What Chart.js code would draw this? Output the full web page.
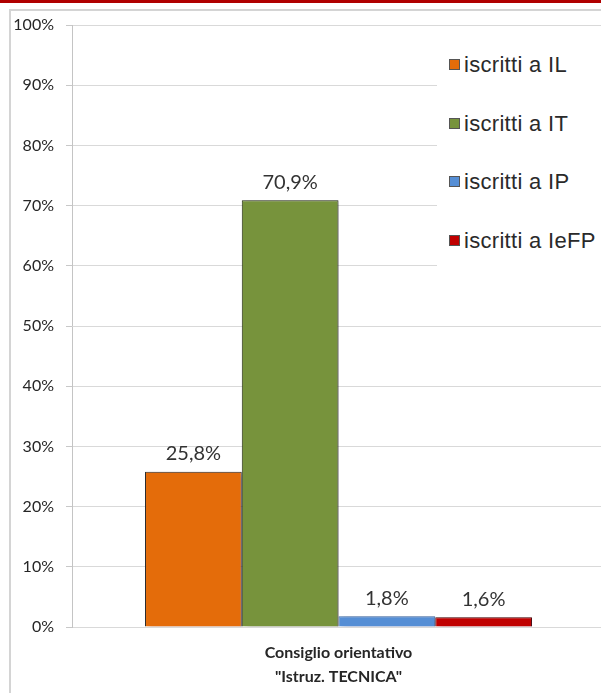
<!DOCTYPE html>
<html>
<head>
<meta charset="utf-8">
<script src="https://cdn.jsdelivr.net/npm/chart.js@4/dist/chart.umd.min.js"></script>
<style>
  html, body { margin:0; padding:0; width:601px; height:693px; overflow:hidden; background:#fff; }
  #band { position:absolute; left:0; top:0; width:601px; height:3px; background:#b00000; }
  #frame { position:absolute; left:9px; top:9px; width:700px; height:800px; border-left:2px solid #d4d4d4; border-top:2px solid #d4d4d4; }
  #wrap { position:absolute; left:0; top:0; width:620px; height:693px; }
  #legend { position:absolute; left:437px; top:32px; width:170px; height:240px; background:#fff; }
  .item { position:absolute; left:12px; font-family:"Liberation Sans", Arial, sans-serif; font-size:22px; letter-spacing:0.3px; color:#2a2a2a; white-space:nowrap; line-height:24px; }
  .sw { display:inline-block; width:9px; height:9px; border:1px solid #555; margin-right:4px; vertical-align:2px; }
</style>
</head>
<body>
<div id="band"></div>
<div id="frame"></div>
<div id="wrap"><canvas id="c" width="620" height="693"></canvas></div>
<div id="legend"></div>
<script>
const categories = [["Consiglio orientativo", "\"Istruz. TECNICA\""]];
const seriesNames = ["iscritti a IL", "iscritti a IT", "iscritti a IP", "iscritti a IeFP"];
const valuesIL = [25.8];
const valuesIT = [70.9];
const valuesIP = [1.8];
const valuesIeFP = [1.6];
const yTicks = [0, 10, 20, 30, 40, 50, 60, 70, 80, 90, 100];

const colors = ["#E46C0A", "#77933C", "#558ED5", "#C00000"];
const borders = ["#2a2a2a", "#222a12", "#3d6aa5", "#4a0000"];
const allValues = [valuesIL, valuesIT, valuesIP, valuesIeFP];

const datasets = seriesNames.map((n, i) => ({
  label: n,
  data: allValues[i],
  backgroundColor: colors[i],
  borderColor: borders[i],
  borderWidth: 1,
  categoryPercentage: 0.726,
  barPercentage: 1.0
}));

// HTML legend
const leg = document.getElementById('legend');
const legTops = [21, 80, 138, 197];
seriesNames.forEach((n, i) => {
  const d = document.createElement('div');
  d.className = 'item';
  d.style.top = legTops[i] + 'px';
  d.innerHTML = '<span class="sw" style="background:' + colors[i] + '"></span>' + n;
  leg.appendChild(d);
});

const shadowPlugin = {
  id: 'shadow',
  beforeDatasetsDraw(chart) {
    const ctx = chart.ctx;
    ctx.save();
    ctx.shadowColor = 'rgba(60,40,80,0.35)';
    ctx.shadowBlur = 5;
    ctx.shadowOffsetX = 4;
    ctx.shadowOffsetY = 2;
  },
  afterDatasetsDraw(chart) {
    chart.ctx.restore();
  }
};

const labelPlugin = {
  id: 'barLabels',
  afterDatasetsDraw(chart) {
    const ctx = chart.ctx;
    ctx.save();
    ctx.font = '20px Lato, "Open Sans", sans-serif';
    ctx.fillStyle = '#333';
    ctx.textAlign = 'center';
    ctx.textBaseline = 'middle';
    chart.data.datasets.forEach((ds, i) => {
      const meta = chart.getDatasetMeta(i);
      meta.data.forEach((bar, j) => {
        const txt = ds.data[j].toFixed(1).replace('.', ',') + '%';
        ctx.fillText(txt, bar.x, bar.y - 18);
      });
    });
    ctx.restore();
  }
};

new Chart(document.getElementById('c'), {
  type: 'bar',
  data: { labels: categories, datasets },
  options: {
    responsive: false,
    animation: false,
    layout: { padding: { left: 0, top: 25, right: 15, bottom: 0 } },
    plugins: { legend: { display: false }, tooltip: { enabled: false } },
    scales: {
      x: {
        grid: { display: false },
        border: { display: false },
        ticks: {
          color: '#262626',
          font: { family: 'Lato, "Open Sans", sans-serif', size: 16, weight: 'bold', lineHeight: 1.5 },
          padding: 6
        },
        afterFit(scale) { scale.height = 66; }
      },
      y: {
        min: 0, max: 100,
        afterBuildTicks(scale) { scale.ticks = yTicks.map(v => ({ value: v })); },
        grid: { color: '#d9d9d9', lineWidth: 1, tickLength: 6, tickColor: '#c8c8c8' },
        border: { display: true, color: '#c4c4c4', width: 1 },
        ticks: {
          color: '#262626',
          font: { family: 'Lato, "Open Sans", sans-serif', size: 16 },
          padding: 12,
          callback: v => v + '%'
        },
        afterFit(scale) { scale.width = 72; }
      }
    }
  },
  plugins: [shadowPlugin, labelPlugin]
});
</script>
</body>
</html>
